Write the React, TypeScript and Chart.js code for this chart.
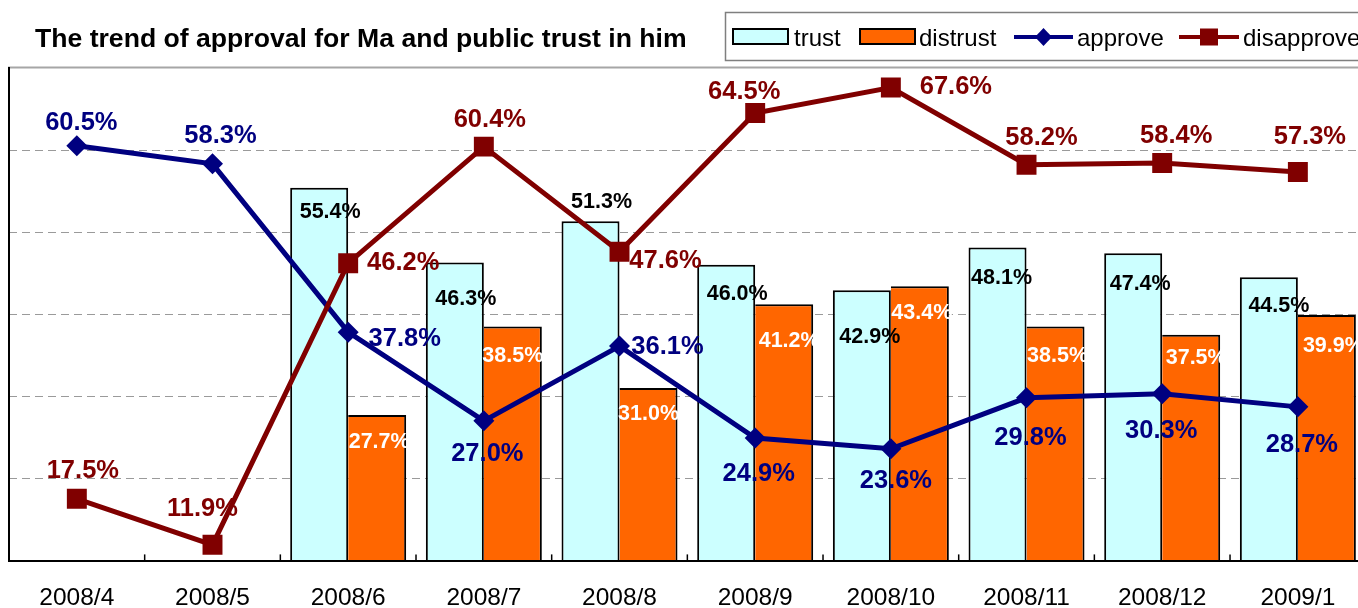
import React, { useEffect, useRef } from 'react';
import { Chart, registerables } from 'chart.js';

Chart.register(...registerables);

// ---------- data ----------
const categories = ['2008/4', '2008/5', '2008/6', '2008/7', '2008/8', '2008/9', '2008/10', '2008/11', '2008/12', '2009/1'];
const trust = [null, null, 55.4, 46.3, 51.3, 46.0, 42.9, 48.1, 47.4, 44.5];
const distrust = [null, null, 27.7, 38.5, 31.0, 41.2, 43.4, 38.5, 37.5, 39.9];
const approve = [60.5, 58.3, 37.8, 27.0, 36.1, 24.9, 23.6, 29.8, 30.3, 28.7];
const disapprove = [17.5, 11.9, 46.2, 60.4, 47.6, 64.5, 67.6, 58.2, 58.4, 57.3];
const yTicks = [10, 20, 30, 40, 50, 60, 70];
const seriesNames = ['trust', 'distrust', 'approve', 'disapprove'];
const chartTitle = 'The trend of approval for Ma and public trust in him';

// ---------- styling ----------
const FONT = '"Liberation Sans", Arial, Helvetica, sans-serif';
const COLORS = {
  trust: '#CCFFFF',
  distrust: '#FF6600',
  approve: '#000080',
  disapprove: '#800000',
};
const LABEL_STYLE: Record<string, { color: string; size: number }> = {
  trust: { color: '#000000', size: 21.5 },
  distrust: { color: '#FFFFFF', size: 21.5 },
  approve: { color: '#000080', size: 25.5 },
  disapprove: { color: '#800000', size: 25.5 },
};
// label placement (dx, dy) of the label centre relative to the point / bar top
const LABEL_OFFSETS: Record<string, ([number, number] | null)[]> = {
  trust: [null, null, [11, 23], [11, 35], [11, -21], [11, 27], [8, 45], [4, 29], [7, 29], [10, 27]],
  distrust: [null, null, [2, 25], [0, 28], [0, 24], [5, 35], [2, 25], [2, 28], [5, 22], [6.5, 29]],
  approve: [[4.5, -25], [8, -30], [56.5, 5], [3.5, 31], [48, -1], [3.5, 34], [5, 30], [4, 38], [-1, 35], [4, 36]],
  disapprove: [[6, -30], [-10, -38], [55, -2], [6, -29], [46, 7], [-11, -23], [65, -3], [15, -29], [14, -29], [12, -37]],
};

const CANVAS_W = 1380;
const CANVAS_H = 608;

const overlayPlugin = {
  id: 'overlay',
  beforeDatasetsDraw(chart: any) {
    const { ctx, chartArea: a, scales } = chart;
    const y = scales.y;
    ctx.save();
    ctx.strokeStyle = '#9a9a9a';
    ctx.lineWidth = 1;
    ctx.setLineDash([8, 5]);
    yTicks.forEach((v) => {
      if (v <= y.min || v >= y.max) return;
      const py = Math.round(y.getPixelForValue(v)) + 0.5;
      ctx.beginPath();
      ctx.moveTo(a.left, py);
      ctx.lineTo(a.right, py);
      ctx.stroke();
    });
    ctx.restore();
  },
  afterDatasetsDraw(chart: any) {
    const { ctx, chartArea: a, scales } = chart;
    const x = scales.x;
    ctx.save();
    // frame
    ctx.setLineDash([]);
    ctx.strokeStyle = '#a6a6a6';
    ctx.lineWidth = 2;
    ctx.beginPath();
    ctx.moveTo(a.left - 1, 67.5);
    ctx.lineTo(a.right + 10, 67.5);
    ctx.stroke();
    ctx.strokeStyle = '#000';
    ctx.beginPath();
    ctx.moveTo(9, 67);
    ctx.lineTo(9, a.bottom + 1);
    ctx.stroke();
    ctx.beginPath();
    ctx.moveTo(8, a.bottom + 0.6);
    ctx.lineTo(a.right + 10, a.bottom + 0.6);
    ctx.stroke();
    // inner tick marks at category boundaries
    ctx.lineWidth = 1.5;
    for (let i = 0; i < categories.length - 1; i++) {
      const bx = (x.getPixelForValue(i) + x.getPixelForValue(i + 1)) / 2;
      ctx.beginPath();
      ctx.moveTo(bx, a.bottom);
      ctx.lineTo(bx, a.bottom - 6);
      ctx.stroke();
    }
    // data labels
    chart.data.datasets.forEach((ds: any, di: number) => {
      const meta = chart.getDatasetMeta(di);
      const key = ds.label as string;
      const st = LABEL_STYLE[key];
      const offs = LABEL_OFFSETS[key];
      ctx.font = `bold ${st.size}px ${FONT}`;
      ctx.fillStyle = st.color;
      ctx.textAlign = 'center';
      ctx.textBaseline = 'alphabetic';
      meta.data.forEach((el: any, i: number) => {
        const v = ds.data[i];
        const off = offs[i];
        if (v == null || !off) return;
        const cx = el.x + off[0];
        const cy = el.y + off[1];
        ctx.fillText(v.toFixed(1) + '%', cx, cy + 0.358 * st.size);
      });
    });
    ctx.restore();
  },
  afterDraw(chart: any) {
    const { ctx, scales } = chart;
    const x = scales.x;
    ctx.save();
    // title
    ctx.fillStyle = '#000';
    ctx.font = `bold 26.6px ${FONT}`;
    ctx.textAlign = 'left';
    ctx.textBaseline = 'alphabetic';
    ctx.fillText(chartTitle, 35, 46.5);
    // x labels
    ctx.font = `24.5px ${FONT}`;
    ctx.textAlign = 'center';
    categories.forEach((c, i) => {
      ctx.fillText(c, x.getPixelForValue(i), 605);
    });
    // legend box
    ctx.strokeStyle = '#7f7f7f';
    ctx.lineWidth = 1.5;
    ctx.strokeRect(725.5, 12.5, 700, 48);
    const ds = chart.data.datasets;
    ctx.font = `24px ${FONT}`;
    ctx.textAlign = 'left';
    const boxes: [number, number][] = [[733, 794], [860, 919]];
    [0, 1].forEach((k) => {
      const [bx, tx] = boxes[k];
      ctx.fillStyle = ds[k].backgroundColor;
      ctx.fillRect(bx, 29, 55, 15);
      ctx.strokeStyle = '#000';
      ctx.lineWidth = 2;
      ctx.strokeRect(bx, 29, 55, 15);
      ctx.fillStyle = '#000';
      ctx.fillText(ds[k].label, tx, 46);
    });
    // approve
    ctx.strokeStyle = ds[2].borderColor;
    ctx.lineWidth = 4;
    ctx.beginPath();
    ctx.moveTo(1014, 37);
    ctx.lineTo(1073, 37);
    ctx.stroke();
    ctx.fillStyle = ds[2].borderColor;
    ctx.beginPath();
    ctx.moveTo(1043.5, 28);
    ctx.lineTo(1052, 37);
    ctx.lineTo(1043.5, 46);
    ctx.lineTo(1035, 37);
    ctx.closePath();
    ctx.fill();
    ctx.fillStyle = '#000';
    ctx.fillText(ds[2].label, 1077, 46);
    // disapprove
    ctx.strokeStyle = ds[3].borderColor;
    ctx.beginPath();
    ctx.moveTo(1179, 37);
    ctx.lineTo(1239, 37);
    ctx.stroke();
    ctx.fillStyle = ds[3].borderColor;
    ctx.fillRect(1200, 28.5, 18, 17);
    ctx.fillStyle = '#000';
    ctx.fillText(ds[3].label, 1243, 46);
    ctx.restore();
  },
};

export default function App() {
  const canvasRef = useRef<HTMLCanvasElement | null>(null);

  useEffect(() => {
    const canvas = canvasRef.current;
    if (!canvas) return;
    const chart = new Chart(canvas, {
      type: 'bar',
      data: {
        labels: categories,
        datasets: [
          {
            type: 'bar',
            label: seriesNames[0],
            data: trust,
            backgroundColor: COLORS.trust,
            borderColor: '#000',
            borderWidth: { top: 2, left: 2, right: 2, bottom: 0 },
            borderSkipped: false,
            base: 10,
            order: 3,
          },
          {
            type: 'bar',
            label: seriesNames[1],
            data: distrust,
            backgroundColor: COLORS.distrust,
            borderColor: '#000',
            borderWidth: { top: 2, left: 0, right: 2, bottom: 0 },
            borderSkipped: false,
            base: 10,
            order: 3,
          },
          {
            type: 'line',
            label: seriesNames[2],
            data: approve,
            borderColor: COLORS.approve,
            backgroundColor: COLORS.approve,
            borderWidth: 5,
            pointStyle: 'rectRot',
            pointRadius: 10.5,
            pointBorderWidth: 0,
            pointBackgroundColor: COLORS.approve,
            tension: 0,
            order: 1,
          } as any,
          {
            type: 'line',
            label: seriesNames[3],
            data: disapprove,
            borderColor: COLORS.disapprove,
            backgroundColor: COLORS.disapprove,
            borderWidth: 5,
            pointStyle: 'rect',
            pointRadius: 14.1,
            pointBorderWidth: 0,
            pointBackgroundColor: COLORS.disapprove,
            tension: 0,
            order: 0,
          } as any,
        ],
      },
      options: {
        responsive: false,
        animation: false,
        devicePixelRatio: 1,
        layout: {
          autoPadding: false,
          padding: { left: 9, right: CANVAS_W - 1365.7, top: 67.8, bottom: CANVAS_H - 560.4 },
        },
        datasets: {
          bar: { barPercentage: 1, categoryPercentage: 0.855 },
        },
        scales: {
          x: { display: false, offset: true },
          y: { display: false, min: 10, max: 70, ticks: { stepSize: 10 } },
        },
        plugins: {
          legend: { display: false },
          title: { display: false },
          tooltip: { enabled: false },
        },
      },
      plugins: [overlayPlugin],
    });
    return () => chart.destroy();
  }, []);

  return (
    <div style={{ position: 'fixed', left: 0, top: 0, width: '1358px', height: '608px', overflow: 'hidden', background: '#fff' }}>
      <canvas ref={canvasRef} width={CANVAS_W} height={CANVAS_H} style={{ display: 'block', width: CANVAS_W + 'px', height: CANVAS_H + 'px' }} />
    </div>
  );
}
